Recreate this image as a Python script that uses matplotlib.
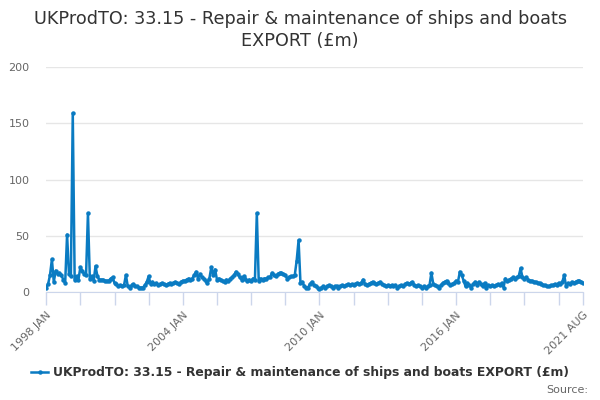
import numpy as np
import matplotlib
matplotlib.use("Agg")
import matplotlib.pyplot as plt

# monthly values, 1998 JAN .. 2021 AUG
values = [
    4, 7, 15, 29, 9, 19, 16, 17, 15, 11, 8, 51,           # 1998
    16, 14, 159, 11, 14, 11, 22, 19, 16, 15, 70, 12,       # 1999
    14, 10, 23, 14, 11, 11, 11, 10, 10, 10, 12, 13,        # 2000
    8, 7, 5, 6, 5, 6, 15, 5, 4, 6, 7, 5,                   # 2001
    5, 4, 4, 4, 6, 9, 14, 7, 9, 7, 8, 6,                   # 2002
    7, 8, 7, 6, 7, 8, 7, 8, 9, 8, 7, 9,                    # 2003
    10, 10, 11, 12, 11, 12, 15, 18, 12, 16, 13, 12,        # 2004
    10, 8, 12, 22, 15, 20, 11, 12, 11, 10, 9, 11,          # 2005
    10, 12, 13, 15, 18, 16, 13, 11, 14, 12, 10, 11,        # 2006
    10, 12, 11, 70, 10, 12, 11, 12, 12, 13, 13, 17,        # 2007
    15, 14, 16, 17, 17, 16, 15, 12, 13, 14, 14, 15,        # 2008
    28, 46, 8, 9, 5, 4, 4, 7, 9, 6, 5, 4,                  # 2009
    3, 4, 5, 4, 5, 6, 5, 4, 5, 5, 4, 5,                    # 2010
    6, 5, 6, 7, 6, 7, 6, 7, 8, 7, 8, 11,                   # 2011
    7, 6, 7, 8, 9, 8, 7, 8, 9, 7, 6, 5,                    # 2012
    6, 5, 6, 5, 6, 4, 5, 6, 5, 7, 8, 7,                    # 2013
    8, 9, 6, 5, 6, 5, 4, 5, 4, 5, 6, 17,                   # 2014
    7, 6, 5, 4, 6, 8, 9, 10, 8, 6, 7, 8,                   # 2015
    10, 9, 18, 15, 10, 5, 8, 6, 4, 7, 9, 6,                # 2016
    9, 7, 5, 8, 4, 6, 5, 6, 5, 6, 7, 6,                    # 2017
    8, 4, 12, 10, 11, 12, 13, 12, 13, 14, 21, 13,          # 2018
    12, 13, 11, 10, 10, 9, 9, 8, 8, 7, 6, 6,               # 2019
    5, 5, 6, 6, 7, 6, 8, 7, 9, 15, 5, 8,                   # 2020
    7, 9, 8, 9, 10, 10, 9, 8,                              # 2021
]
tick_labels = ["1998 JAN", "2004 JAN", "2010 JAN", "2016 JAN", "2021 AUG"]
label_months = [0, 72, 144, 216, 283]
y_ticks = [0, 50, 100, 150, 200]

series_name = "UKProdTO: 33.15 - Repair & maintenance of ships and boats EXPORT (£m)"
line_color = "#0a7bc2"

x = np.arange(len(values))

fig = plt.figure(figsize=(6, 4), dpi=100)
ax = fig.add_axes([0.077, 0.27, 0.895, 0.5625])

ax.plot(x, values, color=line_color, lw=1.8, marker="o", ms=2.2,
        label=series_name, zorder=3)

ax.set_xlim(0, len(values) - 1)
ax.set_ylim(0, 200)
ax.set_yticks(y_ticks)
ax.yaxis.grid(True, color="#e6e6e6", lw=1)
ax.set_axisbelow(True)

# minor ticks every 18 months, labelled ones as major
minor = [m for m in range(0, len(values), 18) if m not in label_months]
ax.set_xticks(label_months)
ax.set_xticklabels(tick_labels, rotation=45, ha="right", rotation_mode="anchor")
ax.set_xticks(minor, minor=True)
ax.tick_params(axis="x", which="both", length=9, color="#ccd6eb", width=1,
               labelsize=8, labelcolor="#666666", pad=4)
ax.tick_params(axis="y", length=0, labelsize=8, labelcolor="#666666", pad=12)

for s in ["top", "right", "left"]:
    ax.spines[s].set_visible(False)
ax.spines["bottom"].set_color("#ccd6eb")

fig.text(0.5, 0.975, "UKProdTO: 33.15 - Repair & maintenance of ships and boats\nEXPORT (£m)",
         ha="center", va="top", fontsize=12.7, color="#333333", linespacing=1.3)

leg = fig.legend(loc="center", bbox_to_anchor=(0.5, 0.068), frameon=False,
                 handlelength=1.4, handletextpad=0.4,
                 prop={"size": 8.9, "weight": "bold"})
for t in leg.get_texts():
    t.set_color("#333333")

fig.text(0.98, 0.012, "Source:", ha="right", va="bottom", fontsize=8, color="#666666")

fig.savefig("out.png", dpi=100)
